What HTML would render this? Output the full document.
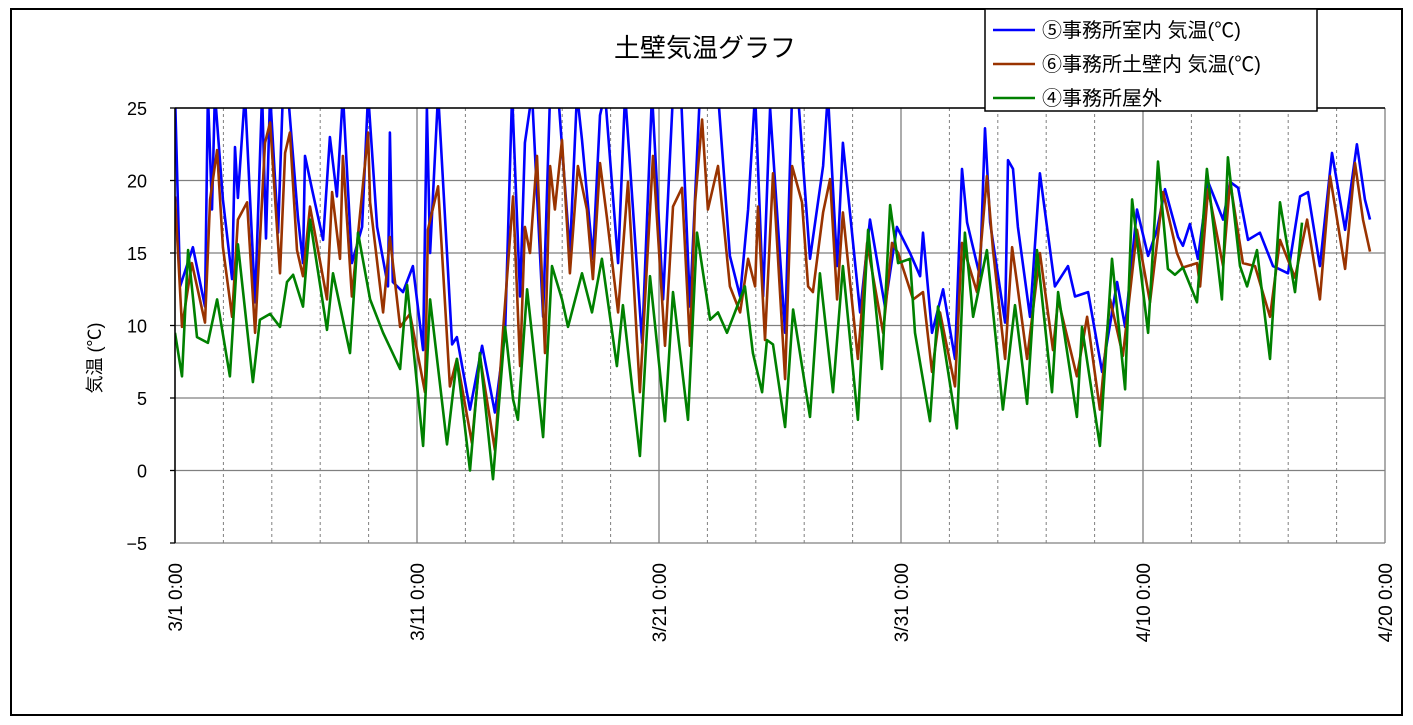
<!DOCTYPE html>
<html><head><meta charset="utf-8">
<style>
html,body{margin:0;padding:0;background:#fff;}
svg{display:block;font-family:"Liberation Sans","Noto Sans CJK JP",sans-serif;}
</style></head>
<body>
<svg id="chart" width="1413" height="725" viewBox="0 0 1413 725" xmlns="http://www.w3.org/2000/svg">
<rect x="11" y="9" width="1391" height="706" fill="#fff" stroke="#000" stroke-width="2"/>
<text x="705" y="57" font-size="26" text-anchor="middle">土壁気温グラフ</text>
<g id="grid"></g>
<g id="series"></g>
<g id="axes"></g>
<text transform="translate(101,358) rotate(-90)" font-size="18" text-anchor="middle">気温 (℃)</text>
<g>
<rect x="985" y="9" width="332" height="102" fill="#fff" stroke="#000" stroke-width="1.5"/>
<g><line x1="993" y1="30" x2="1035" y2="30" stroke="#0000ff" stroke-width="2.5"/><text x="1042" y="37" font-size="20">⑤事務所室内 気温(℃)</text></g>
<g><line x1="993" y1="64" x2="1035" y2="64" stroke="#993300" stroke-width="2.5"/><text x="1042" y="71" font-size="20">⑥事務所土壁内 気温(℃)</text></g>
<g><line x1="993" y1="98" x2="1035" y2="98" stroke="#008000" stroke-width="2.5"/><text x="1042" y="105" font-size="20">④事務所屋外</text></g>
</g>
</svg>
<script>
const yTicks=[25,20,15,10,5,0,-5];
const xTickLabels=["3/1 0:00","3/11 0:00","3/21 0:00","3/31 0:00","4/10 0:00","4/20 0:00"];
const xTickDays=[0,10,20,30,40,50];
const blueDays=[0,0.21,0.74,1.24,1.36,1.53,1.65,1.98,2.36,2.48,2.6,2.89,3.31,3.6,3.76,3.93,4.26,4.46,4.67,5.08,5.29,5.37,5.66,6.12,6.4,6.69,6.94,7.31,7.73,7.98,8.35,8.8,8.88,9.0,9.42,9.83,10.25,10.41,10.54,10.87,11.45,11.65,12.19,12.69,13.22,13.64,13.93,14.26,14.46,14.75,15.21,15.5,15.83,16.32,16.61,16.82,17.27,17.56,17.77,18.31,18.6,19.3,19.71,20.17,20.58,20.91,21.28,21.69,22.02,22.44,22.93,23.35,23.68,23.97,24.3,24.59,25.21,25.5,25.74,26.24,26.78,26.98,27.36,27.6,28.31,28.72,29.34,29.83,30.37,30.79,30.91,31.28,31.74,32.23,32.52,32.73,33.26,33.47,33.68,34.3,34.42,34.63,34.83,35.33,35.74,36.36,36.9,37.19,37.73,38.31,38.93,39.26,39.75,40.21,40.58,40.91,41.45,41.65,41.94,42.27,42.69,43.31,43.6,43.93,44.34,44.83,45.37,45.99,46.49,46.82,47.31,47.81,48.35,48.84,49.17,49.38];
const blueVals=[26,12.7,15.4,11.3,26,18,26,18.7,13.2,22.3,18.8,26,11.6,26,16,26,16.4,26,26,17.5,14.3,21.7,19.4,15.9,23,18.9,26,14.3,16.8,26,16.8,12.7,23.3,13,12.3,14.1,8.3,25,15,26,8.7,9.2,4.2,8.6,4,9.5,26,12,22.6,26,10.6,26,26,15,26,22.8,14.6,24.5,26,14.3,26,8.8,26,11.8,26,26,11.3,26,26,26,14.8,12,18,26,12,25,9.5,26,26,14.6,21,26,14.1,22.6,10.9,17.3,11.3,16.8,15,13.4,16.4,9.5,12.5,7.7,20.8,17.1,13.4,23.6,17.1,10.2,21.4,20.8,16.8,10.6,20.5,12.7,14.1,12,12.3,6.8,13,9.9,18,14.8,16.6,19.4,16.1,15.5,17,14.6,19.9,17.3,19.9,19.5,15.9,16.4,14.1,13.6,18.9,19.2,14.1,21.9,16.6,22.5,18.7,17.3];
const brownDays=[0,0.29,0.7,1.24,1.45,1.74,1.98,2.36,2.6,2.98,3.31,3.72,3.93,4.34,4.55,4.75,5.04,5.29,5.58,5.91,6.28,6.49,6.82,6.94,7.31,7.98,8.06,8.6,8.88,9.3,9.71,10.33,10.45,10.87,11.36,11.65,12.27,12.6,13.22,13.55,13.97,14.26,14.46,14.67,14.96,15.29,15.5,15.7,15.99,16.32,16.65,17.02,17.27,17.56,17.85,18.31,18.72,19.21,19.75,20.25,20.58,20.95,21.28,21.49,21.78,22.02,22.44,22.93,23.35,23.68,23.97,24.09,24.38,24.71,25.21,25.5,25.91,26.16,26.36,26.78,27.07,27.36,27.6,28.22,28.6,29.26,29.63,29.88,30.5,30.91,31.28,31.61,32.23,32.52,33.14,33.55,33.8,34.3,34.59,34.79,35.21,35.74,36.28,36.49,37.27,37.69,38.22,38.64,39.17,39.75,40.29,40.83,41.4,41.65,42.23,42.36,42.69,43.31,43.6,44.13,44.63,45.25,45.66,46.28,46.78,47.31,47.73,48.35,48.76,49.09,49.38];
const brownVals=[18.9,9.9,14.3,10.2,18.7,22.1,15.4,10.6,17.3,18.5,9.5,22.6,24,13.6,21.9,23.3,15.2,13.4,18.2,15.2,11.8,19.2,14.6,21.7,12,23.3,18.5,10.9,16.1,9.9,10.8,5.4,16.6,19.6,5.8,7.7,1.9,7.9,1.4,9.5,18.9,7.2,16.8,15,21.7,8.1,21,18,22.8,13.6,21,18,13.2,21.2,17.4,10.9,19.9,5.4,21.7,8.6,18.2,19.5,8.6,18.5,24.2,18,21,12.7,10.9,14.6,12.7,18.2,9,20.5,6.3,21,18.5,12.7,12.3,17.8,20.1,11.8,17.8,7.7,15.7,9.5,15.7,15,11.8,12.3,6.8,10.9,5.8,15.7,12.3,20.3,15.2,7.7,15.4,13,7.7,15,8.3,11.8,6.5,10.6,4.2,11.8,7.9,16.6,11.6,19.2,15,14,14.3,12.7,19.4,14.1,19.9,14.3,14.1,10.6,15.9,13.3,17.3,11.8,20.3,13.9,21.2,17.3,15.1];
const greenDays=[0,0.29,0.54,0.91,1.36,1.74,2.27,2.6,3.22,3.51,3.93,4.34,4.63,4.88,5.29,5.58,6.28,6.53,7.23,7.56,8.06,8.6,9.3,9.59,10.25,10.54,11.24,11.65,12.19,12.6,13.14,13.64,13.97,14.17,14.55,15.21,15.58,15.99,16.24,16.82,17.23,17.64,18.26,18.51,19.21,19.63,20.25,20.58,21.2,21.57,22.11,22.44,22.81,23.55,23.88,24.26,24.46,24.71,25.21,25.54,26.24,26.65,27.19,27.6,28.22,28.64,29.21,29.55,29.88,30.37,30.58,31.2,31.53,32.31,32.64,32.98,33.55,34.21,34.71,35.21,35.62,36.24,36.49,37.27,37.48,38.22,38.72,39.26,39.55,40.21,40.62,41.03,41.32,41.65,42.23,42.64,43.26,43.51,44.01,44.3,44.71,45.25,45.66,46.28,46.57];
const greenVals=[9.5,6.5,15.2,9.2,8.8,11.8,6.5,15.6,6.1,10.4,10.8,9.9,13,13.5,11.3,17.3,9.7,13.6,8.1,16.4,11.8,9.5,7,12.8,1.7,11.8,1.8,7.7,0,8.1,-0.6,9.9,4.9,3.5,12.5,2.3,14.1,11.8,9.9,13.6,10.9,14.6,7.2,11.4,1,13.4,3.4,12.3,3.5,16.4,10.4,10.9,9.5,12.7,8.1,5.4,9,8.7,3,11.1,3.7,13.6,5.4,14.1,3.5,16.6,7,18.3,14.3,14.6,9.5,3.4,11.3,2.9,16.4,10.6,15.2,4.2,11.4,4.6,15.2,5.4,12.3,3.7,9.9,1.7,14.6,5.6,18.7,9.5,21.3,13.9,13.5,14,11.6,20.8,11.8,21.6,14.1,12.7,15.2,7.7,18.5,12.3,17.1];

const NS="http://www.w3.org/2000/svg";
const PL=175,PR=1385,PT=108,PB=543,yMin=-5,yMax=25,dayMax=50;
function xs(d){return PL+(PR-PL)*d/dayMax;}
function ys(v){return PB-(PB-PT)*(v-yMin)/(yMax-yMin);}
function mk(tag,attrs,parent){const e=document.createElementNS(NS,tag);for(const k in attrs)e.setAttribute(k,attrs[k]);parent.appendChild(e);return e;}
const gridG=document.getElementById('grid'),axesG=document.getElementById('axes'),serG=document.getElementById('series');

for(const v of yTicks){
  const g=mk('line',{x1:PL,x2:PR,y1:ys(v),y2:ys(v),stroke:'#808080','stroke-width':1.3},gridG);
  
  
  const tk=mk('line',{x1:PL-5,x2:PL,y1:ys(v),y2:ys(v),stroke:'#000','stroke-width':1.3},axesG);
  
  
  const t=mk('text',{x:PL-28,y:ys(v)+7,'font-size':18,'text-anchor':'end'},axesG);
  t.textContent=(v<0?'−':'')+Math.abs(v);
  
  
}
for(let d=2;d<dayMax;d+=2){
  if(d%10===0)continue;
  const l=mk('line',{x1:xs(d),x2:xs(d),y1:PT,y2:PB,stroke:'#808080','stroke-width':1,'stroke-dasharray':'3,3'},gridG);
  
  
}
xTickDays.forEach((d,i)=>{
  const l=mk('line',{x1:xs(d),x2:xs(d),y1:PT,y2:PB,stroke:'#808080','stroke-width':1.3},gridG);
  
  
  const t=mk('text',{transform:`translate(${xs(d)+7},563) rotate(-90)`,'font-size':19,'text-anchor':'end'},axesG);
  t.textContent=xTickLabels[i];
  
  
});
const defsEl=mk('defs',{},serG);
const cp=mk('clipPath',{id:'plotclip'},defsEl);
mk('rect',{x:PL,y:PT,width:PR-PL,height:PB-PT},cp);
function drawLine(days,vals,color,name){
  let d='';
  days.forEach((t,i)=>{d+=(i?'L':'M')+xs(t).toFixed(1)+','+ys(vals[i]).toFixed(1);});
  const p=mk('path',{d:d,fill:'none',stroke:color,'stroke-width':2.6,'stroke-linejoin':'round','clip-path':'url(#plotclip)'},serG);
  
  
}
drawLine(blueDays,blueVals,'#0000ff','series-indoor-line');
drawLine(brownDays,brownVals,'#993300','series-wall-line');
drawLine(greenDays,greenVals,'#008000','series-outdoor-line');
const plotTop=mk('line',{x1:PL,x2:PR,y1:PT,y2:PT,stroke:'#000','stroke-width':1.5},axesG);


const yAxisLine=mk('line',{x1:PL,x2:PL,y1:PT,y2:PB,stroke:'#000','stroke-width':1.5},axesG);


</script>
</body></html>
